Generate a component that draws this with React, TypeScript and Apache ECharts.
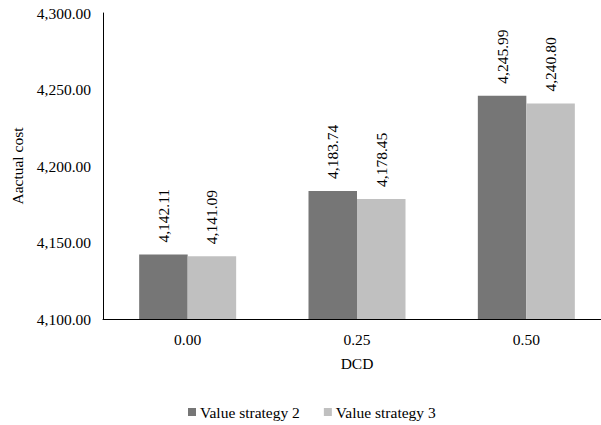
import React, { useEffect, useRef } from "react";
import * as echarts from "echarts";

const categories = ["0.00", "0.25", "0.50"];
const strategy2 = [4142.11, 4183.74, 4245.99];
const strategy3 = [4141.09, 4178.45, 4240.8];
const seriesNames = ["Value strategy 2", "Value strategy 3"];

const FONT = "Liberation Serif";
const FS = 15.5;

const fmt = (v: number) =>
  v.toLocaleString("en-US", { minimumFractionDigits: 2, maximumFractionDigits: 2 });

export default function App() {
  const ref = useRef<HTMLDivElement>(null);

  useEffect(() => {
    if (!ref.current) return;
    const chart = echarts.init(ref.current, undefined, { renderer: "svg" });

    const label = {
      show: true,
      position: "top" as const,
      rotate: 90,
      align: "left" as const,
      verticalAlign: "middle" as const,
      distance: 12,
      fontFamily: FONT,
      fontSize: FS,
      color: "#000",
      formatter: (p: any) => fmt(p.value),
    };

    chart.setOption({
      animation: false,
      textStyle: { fontFamily: FONT },
      grid: {
        left: 103,
        top: 13,
        width: 508,
        height: 306,
        containLabel: false,
        outerBoundsMode: "none",
      },
      legend: {
        left: 188,
        top: 404,
        padding: 0,
        itemWidth: 8,
        itemHeight: 8,
        itemGap: 24,
        icon: "rect",
        textStyle: { fontFamily: FONT, fontSize: FS, color: "#000", padding: [0, 0, 0, -1] },
        data: seriesNames,
      },
      xAxis: {
        type: "category",
        data: categories,
        name: "DCD",
        nameLocation: "middle",
        nameGap: 36,
        nameTextStyle: { fontFamily: FONT, fontSize: FS, color: "#000" },
        axisLine: { lineStyle: { color: "#000", width: 1 } },
        axisTick: { show: false },
        axisLabel: { fontFamily: FONT, fontSize: FS, color: "#000", margin: 12 },
      },
      yAxis: {
        type: "value",
        min: 4100,
        max: 4300,
        interval: 50,
        name: "Aactual cost",
        nameLocation: "middle",
        nameGap: 76,
        nameTextStyle: { fontFamily: FONT, fontSize: FS, color: "#000" },
        axisLine: { show: true, lineStyle: { color: "#000", width: 1 } },
        axisTick: { show: false },
        splitLine: { show: false },
        axisLabel: {
          fontFamily: FONT,
          fontSize: FS,
          color: "#000",
          margin: 12,
          formatter: (v: number) => fmt(v),
        },
      },
      series: [
        {
          name: seriesNames[0],
          type: "bar",
          data: strategy2,
          barWidth: 48.5,
          barGap: "0%",
          itemStyle: { color: "#767676" },
          label,
        },
        {
          name: seriesNames[1],
          type: "bar",
          data: strategy3,
          barWidth: 48.5,
          barGap: "0%",
          itemStyle: { color: "#c0c0c0" },
          label,
        },
      ],
    });

    return () => chart.dispose();
  }, []);

  return (
    <div
      ref={ref}
      style={{ position: "fixed", left: 0, top: 0, width: 601, height: 425, background: "#fff" }}
    />
  );
}
